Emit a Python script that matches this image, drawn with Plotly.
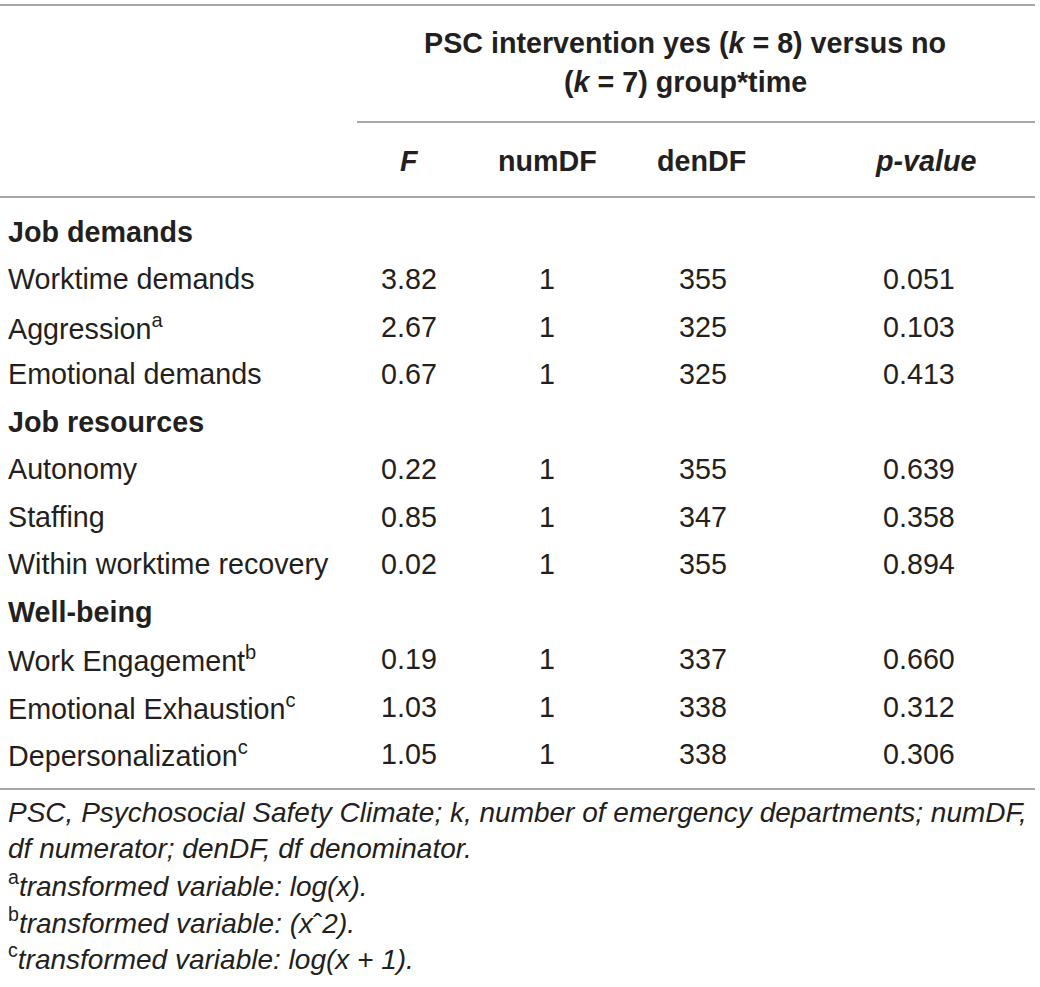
import plotly.graph_objects as go

# ---- data ----
header_title = ["PSC intervention yes (<i>k</i> = 8) versus no", "(<i>k</i> = 7) group*time"]
col_labels = ["<i>F</i>", "numDF", "denDF", "<i>p-value</i>"]
sections = ["Job demands", "Job resources", "Well-being"]
row_labels = [
    ["Worktime demands", "Aggression<sup>a</sup>", "Emotional demands"],
    ["Autonomy", "Staffing", "Within worktime recovery"],
    ["Work Engagement<sup>b</sup>", "Emotional Exhaustion<sup>c</sup>", "Depersonalization<sup>c</sup>"],
]
F_vals = [["3.82", "2.67", "0.67"], ["0.22", "0.85", "0.02"], ["0.19", "1.03", "1.05"]]
numDF_vals = [["1", "1", "1"], ["1", "1", "1"], ["1", "1", "1"]]
denDF_vals = [["355", "325", "325"], ["355", "347", "355"], ["337", "338", "338"]]
p_vals = [["0.051", "0.103", "0.413"], ["0.639", "0.358", "0.894"], ["0.660", "0.312", "0.306"]]
footnotes = [
    "<i>PSC, Psychosocial Safety Climate; k, number of emergency departments; numDF,</i>",
    "<i>df numerator; denDF, df denominator.</i>",
    "<sup>a</sup><i>transformed variable: log(x).</i>",
    "<sup>b</sup><i>transformed variable: (x</i>ˆ<i>2).</i>",
    "<sup>c</sup><i>transformed variable: log(x + 1).</i>",
]

# ---- layout constants ----
W, H = 1040, 987
FONT = "Liberation Sans, Arial, Helvetica, sans-serif"
FS = 28.7
TXT = "#231f20"
LINE = "#a8a8a8"
col_x = [409, 547, 703, 919]
head_x = [409, 547, 701, 925]
label_x = 6
row0_y = 232
row_step = 47.45

fig = go.Figure()
ann = []

def add(x, y, text, xanchor="center", size=FS, bold=False):
    if bold:
        text = "<b>" + text + "</b>"
    ann.append(dict(x=x, y=y, xref="x", yref="y", text=text, showarrow=False,
                    xanchor=xanchor, yanchor="middle",
                    font=dict(family=FONT, size=size, color=TXT)))

# header
add(685, 43, header_title[0], bold=True)
add(685, 82, header_title[1], bold=True)
for cx, lab in zip(head_x, col_labels):
    add(cx, 161, lab, bold=True)

# body
r = 0
for s, sec in enumerate(sections):
    add(label_x, row0_y + r * row_step, sec, xanchor="left", bold=True)
    r += 1
    for i, lab in enumerate(row_labels[s]):
        y = row0_y + r * row_step
        add(label_x, y, lab, xanchor="left")
        add(col_x[0], y, F_vals[s][i])
        add(col_x[1], y, numDF_vals[s][i])
        add(col_x[2], y, denDF_vals[s][i])
        add(col_x[3], y, p_vals[s][i])
        r += 1

# footnotes
for j, fn in enumerate(footnotes):
    add(label_x, 812 + j * 36.2, fn, xanchor="left", size=28)

shapes = [
    dict(type="line", xref="x", yref="y", x0=0, x1=1035, y0=5, y1=5, line=dict(color=LINE, width=2)),
    dict(type="line", xref="x", yref="y", x0=357, x1=1035, y0=122, y1=122, line=dict(color=LINE, width=2)),
    dict(type="line", xref="x", yref="y", x0=0, x1=1035, y0=197, y1=197, line=dict(color=LINE, width=2)),
    dict(type="line", xref="x", yref="y", x0=0, x1=1035, y0=789, y1=789, line=dict(color=LINE, width=2)),
]

fig.update_layout(
    width=W, height=H,
    margin=dict(l=0, r=0, t=0, b=0),
    paper_bgcolor="white", plot_bgcolor="white",
    xaxis=dict(range=[0, W], visible=False, fixedrange=True),
    yaxis=dict(range=[H, 0], visible=False, fixedrange=True),
    annotations=ann, shapes=shapes, showlegend=False,
)
# remove the default 8px page margin so figure pixels equal window pixels
fig.write_html("out.html", config={"displayModeBar": False},
               post_script="document.body.style.margin='0px';")
